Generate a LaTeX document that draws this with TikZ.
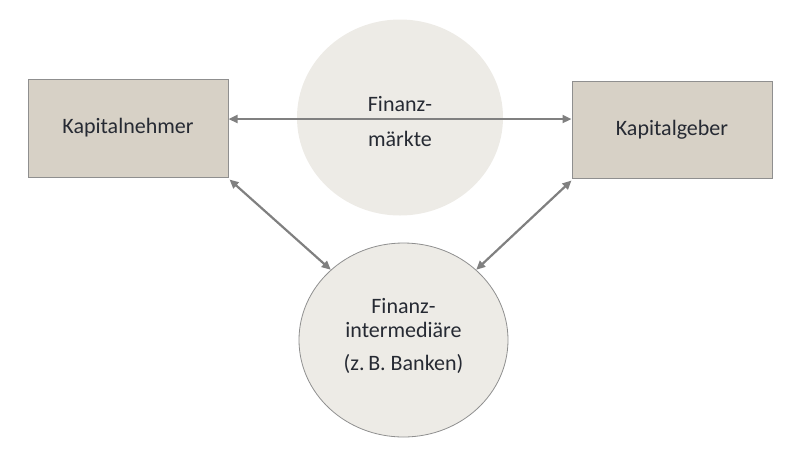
\documentclass[tikz,border=0pt]{standalone}
\usepackage{fontspec}
\setmainfont{Carlito}
\usetikzlibrary{arrows.meta,shapes.geometric}
\definecolor{boxfill}{HTML}{D7D1C6}
\definecolor{boxline}{HTML}{8F8F8F}
\definecolor{circfill}{HTML}{EDEBE6}
\definecolor{arrcol}{HTML}{808080}
\definecolor{txtcol}{HTML}{262A33}
\tikzset{
  boxnode/.style={rectangle, fill=boxfill, draw=boxline, line width=1pt, minimum width=200pt, minimum height=98pt, inner sep=0pt},
  circnode/.style={ellipse, fill=circfill, inner sep=0pt},
  txt/.style={text=txtcol, font=\fontsize{22}{24}\selectfont, align=center, inner sep=0pt},
  arr/.style={draw=arrcol, line width=2.2pt, {Triangle[length=9pt,width=8pt]}-{Triangle[length=9pt,width=8pt]}}
}
\begin{document}
\begin{tikzpicture}[x=1pt,y=-1pt]
\useasboundingbox (0,0) rectangle (793,459);
\node[boxnode] (kn) at (128,128) {};
\node[boxnode, minimum height=97pt] (kg) at (672,129.5) {};
\node[txt] (knt) at (kn.center) {Kapitalnehmer};
\node[txt] (kgt) at (kg.center) {Kapitalgeber};
\node[circnode, minimum width=206pt, minimum height=196pt] (fm) at (400,117.5) {};
\node[circnode, draw=boxline, line width=0.8pt, minimum width=209pt, minimum height=194pt] (fi) at (403.5,340) {};
\draw[arr] ([yshift=9pt]kn.east) -- ([yshift=10.5pt]kg.west);
\node[txt] (fmt) at (400,122) {Finanz-\\[11pt]märkte};
\node[txt] (fit) at (403.5,336) {Finanz-\\intermediäre\\[9pt](z.\,B. Banken)};
\draw[arr] ([shift={(1pt,-2pt)}]kn.south east) -- (fi.136);
\draw[arr] ([shift={(0pt,-2pt)}]kg.south west) -- (fi.44);
\end{tikzpicture}
\end{document}
